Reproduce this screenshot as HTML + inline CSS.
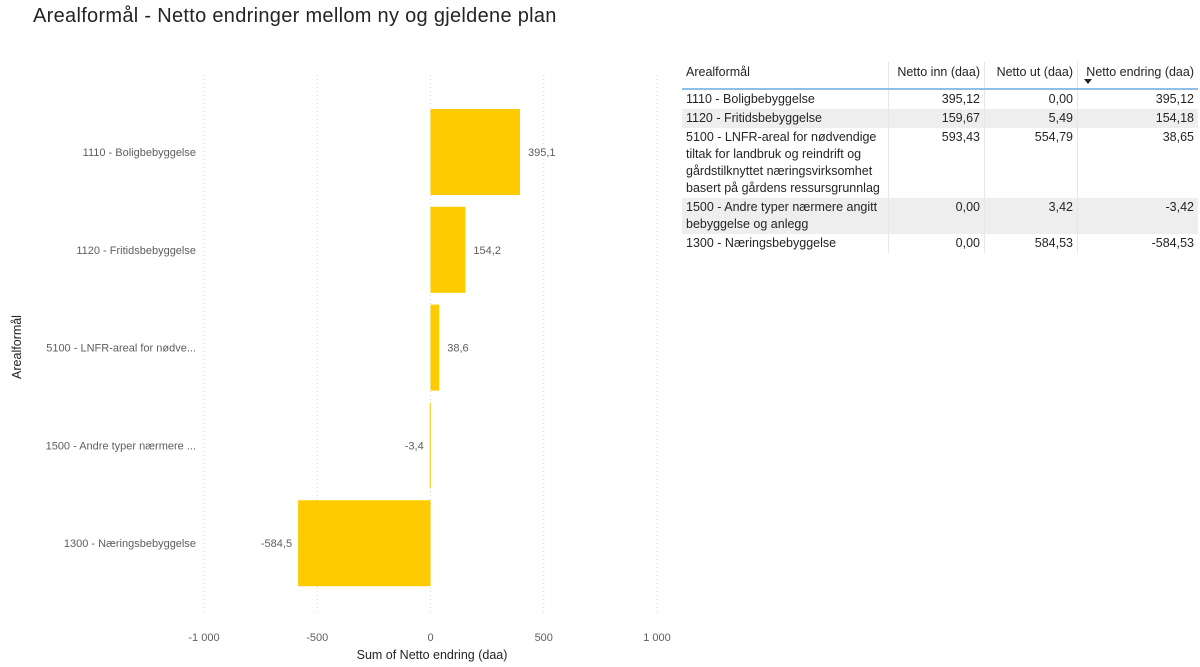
<!DOCTYPE html>
<html><head><meta charset="utf-8">
<style>
body{margin:0;width:1200px;height:667px;background:#fff;font-family:"Liberation Sans",sans-serif;position:relative;overflow:hidden}
#title{position:absolute;left:33px;top:5px;font-size:20px;color:#252423;letter-spacing:0.3px}
table{position:absolute;left:682px;top:62px;border-collapse:collapse;font-size:12.5px;color:#252423}
th{font-weight:normal;text-align:left;padding:3px 4px;height:20px;border-bottom:2px solid #8fbfe6;border-left:1px solid #e6e6e6;vertical-align:top}
td{padding:1px 4px;border-left:1px solid #e6e6e6;vertical-align:top;line-height:17px}
th:first-child,td:first-child{border-left:none}
td.n,th.n{text-align:right}
tr.g td{background:#eeeeee}
</style></head><body>
<div id="title">Arealformål - Netto endringer mellom ny og gjeldene plan</div>
<svg id="chart" width="680" height="667" style="position:absolute;left:0;top:0"></svg>
<table>
<tr><th style="width:198px">Arealformål</th><th class="n" style="width:87px">Netto inn (daa)</th><th class="n" style="width:84px">Netto ut (daa)</th><th class="n" style="width:112px">Netto endring (daa)<div style="position:absolute;margin-left:2px;width:0;height:0;border-left:4px solid transparent;border-right:4px solid transparent;border-top:5px solid #252423"></div></th></tr>
<tr><td>1110 - Boligbebyggelse</td><td class="n">395,12</td><td class="n">0,00</td><td class="n">395,12</td></tr>
<tr class="g"><td>1120 - Fritidsbebyggelse</td><td class="n">159,67</td><td class="n">5,49</td><td class="n">154,18</td></tr>
<tr><td>5100 - LNFR-areal for nødvendige tiltak for landbruk og reindrift og gårdstilknyttet næringsvirksomhet basert på gårdens ressursgrunnlag</td><td class="n">593,43</td><td class="n">554,79</td><td class="n">38,65</td></tr>
<tr class="g"><td>1500 - Andre typer nærmere angitt bebyggelse og anlegg</td><td class="n">0,00</td><td class="n">3,42</td><td class="n">-3,42</td></tr>
<tr><td>1300 - Næringsbebyggelse</td><td class="n">0,00</td><td class="n">584,53</td><td class="n">-584,53</td></tr>
</table>
<script>
const categories=["1110 - Boligbebyggelse","1120 - Fritidsbebyggelse","5100 - LNFR-areal for nødve...","1500 - Andre typer nærmere ...","1300 - Næringsbebyggelse"];
const values=[395.12,154.18,38.65,-3.42,-584.53];
const valueLabels=["395,1","154,2","38,6","-3,4","-584,5"];
const ticks=[-1000,-500,0,500,1000];
const tickLabels=["-1 000","-500","0","500","1 000"];
const svg=document.getElementById('chart');const NS="http://www.w3.org/2000/svg";
const x0=430.5,xs=226.5/1000;const X=v=>x0+v*xs;
const topY=103,band=97.8;const Y=i=>topY+i*band;const bh=86;
function el(t,a,txt){const e=document.createElementNS(NS,t);for(const k in a)e.setAttribute(k,a[k]);if(txt!=null)e.textContent=txt;svg.appendChild(e);return e;}
ticks.forEach((t,i)=>{
 const g=el('line',{x1:X(t),x2:X(t),y1:75,y2:615,stroke:'#d6d6d6','stroke-dasharray':'1,3'});
 
 
 const l=el('text',{x:X(t),y:641,'text-anchor':'middle','font-size':11,fill:'#605e5c'},tickLabels[i]);
 
 
});
categories.forEach((c,i)=>{
 const v=values[i];const yc=Y(i)+bh/2+6;
 const r=el('rect',{x:Math.min(X(0),X(v)),y:Y(i)+6,width:Math.max(1,Math.abs(X(v)-X(0))),height:bh,fill:'#fdcb00'});
 
 
 const lab=el('text',{x:196,y:yc+4,'text-anchor':'end','font-size':11,fill:'#605e5c'},c);
 
 
 const vl=el('text',{x:v>=0?X(v)+8:X(v)-6,y:yc+4,'text-anchor':v>=0?'start':'end','font-size':11,fill:'#605e5c'},valueLabels[i]);
 
 
});
const xt=el('text',{x:432,y:659,'text-anchor':'middle','font-size':12.5,fill:'#252423'},'Sum of Netto endring (daa)');


const yt=el('text',{x:0,y:0,'text-anchor':'middle','font-size':12.5,fill:'#252423',transform:'translate(21,347) rotate(-90)'},'Arealformål');


</script>
</body></html>
